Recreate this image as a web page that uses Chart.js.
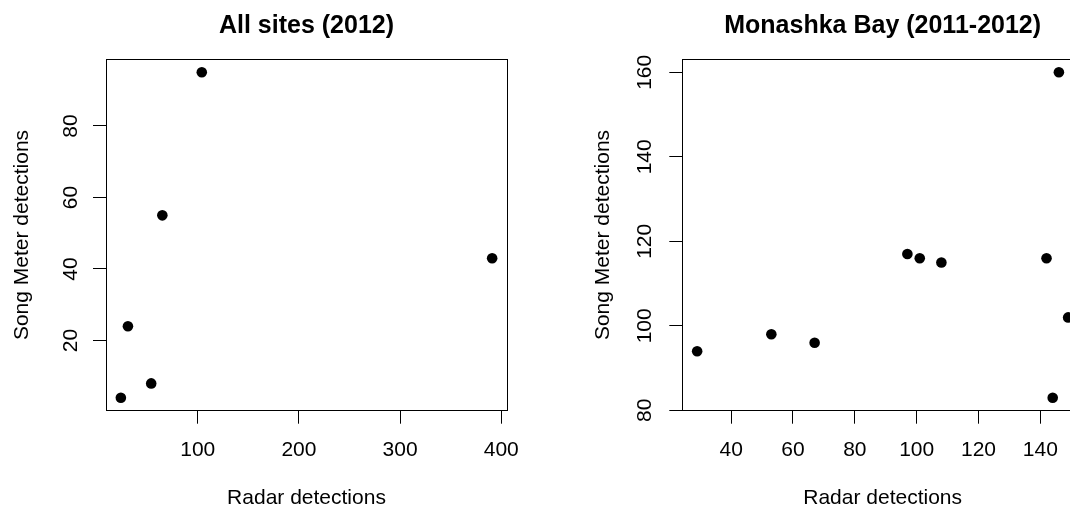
<!DOCTYPE html>
<html>
<head>
<meta charset="utf-8">
<script src="https://cdn.jsdelivr.net/npm/chart.js@4.4.0/dist/chart.umd.min.js"></script>
<style>
  html, body { margin: 0; padding: 0; background: #ffffff; }
  body { width: 1070px; height: 506px; overflow: hidden; position: relative; }
  canvas { position: absolute; top: 0; }
  #allSites { left: 0; }
  #monashka { left: 535px; }
</style>
</head>
<body>
<canvas id="allSites" width="535" height="520"></canvas>
<canvas id="monashka" width="548" height="520"></canvas>
<script>
const black = '#000000';
Chart.defaults.font.family = "'Liberation Sans', Arial, Helvetica, sans-serif";
Chart.defaults.color = black;

// All sites (2012)
const allSitesRadar = [24, 54, 31, 65, 104, 391];
const allSitesSongMeter = [4, 8, 24, 55, 95, 43];
const allSitesXTicks = [100, 200, 300, 400];
const allSitesYTicks = [20, 40, 60, 80];

// Monashka Bay (2011-2012)
const monashkaRadar = [29, 53, 67, 97, 101, 108, 142, 146, 144, 149];
const monashkaSongMeter = [94, 98, 96, 117, 116, 115, 116, 160, 83, 102];
const monashkaXTicks = [40, 60, 80, 100, 120, 140];
const monashkaYTicks = [80, 100, 120, 140, 160];

// base R style range: data extent stretched 4% each side
function rRange(values) {
  const lo = Math.min(...values);
  const hi = Math.max(...values);
  const pad = (hi - lo) * 0.04;
  return { min: lo - pad, max: hi + pad };
}

// closed frame around the plot region
const plotBox = {
  id: 'plotBox',
  afterDraw(chart) {
    const { ctx, chartArea: a } = chart;
    const x0 = Math.floor(a.left) + 0.5, y0 = Math.floor(a.top) + 0.5;
    const x1 = Math.floor(a.right) + 0.5, y1 = Math.floor(a.bottom) + 0.5;
    ctx.save();
    ctx.strokeStyle = black;
    ctx.lineWidth = 1;
    ctx.strokeRect(x0, y0, x1 - x0, y1 - y0);
    ctx.restore();
  }
};

function drawPlot(id, name, xs, ys, xTicks, yTicks, lay) {
  const xr = rRange(xs);
  const yr = rRange(ys);
  return new Chart(document.getElementById(id), {
    type: 'scatter',
    data: {
      datasets: [{
        data: xs.map((x, i) => ({ x: x, y: ys[i] })),
        backgroundColor: black,
        pointRadius: 5.3,
        pointHoverRadius: 5.3,
        borderWidth: 0,
        clip: false
      }]
    },
    options: {
      responsive: false,
      animation: false,
      events: [],
      layout: {
        autoPadding: false,
        padding: { left: 0, right: lay.right, top: 0, bottom: 0 }
      },
      plugins: {
        legend: { display: false },
        tooltip: { enabled: false },
        title: {
          display: true,
          text: name,
          fullSize: false,
          color: black,
          font: { size: 25, weight: 'bold' },
          padding: { top: 11.5, bottom: 17.8 }
        }
      },
      scales: {
        x: {
          type: 'linear',
          position: 'bottom',
          min: xr.min,
          max: xr.max,
          afterBuildTicks: s => { s.ticks = xTicks.map(v => ({ value: v })); },
          afterFit: s => { s.height = 109.3; },
          ticks: { color: black, font: { size: 21 }, padding: 14.2, maxRotation: 0 },
          grid: { drawOnChartArea: false, color: black, tickLength: 13 },
          border: { display: false },
          title: {
            display: true,
            text: 'Radar detections',
            color: black,
            font: { size: 21 },
            padding: { top: 0, bottom: 8.9 }
          }
        },
        y: {
          type: 'linear',
          position: 'left',
          min: yr.min,
          max: yr.max,
          afterBuildTicks: s => { s.ticks = yTicks.map(v => ({ value: v })); },
          afterFit: s => { s.width = lay.yWidth; },
          ticks: {
            color: black,
            font: { size: 21 },
            padding: lay.yTickPad,
            minRotation: 90,
            maxRotation: 90,
            crossAlign: 'center'
          },
          grid: { drawOnChartArea: false, color: black, tickLength: 13 },
          border: { display: false },
          title: {
            display: true,
            text: 'Song Meter detections',
            color: black,
            font: { size: 21 },
            padding: { top: lay.yTitlePad, bottom: 0 }
          }
        }
      }
    },
    plugins: [plotBox]
  });
}

drawPlot('allSites', 'All sites (2012)', allSitesRadar, allSitesSongMeter,
  allSitesXTicks, allSitesYTicks, { right: 28, yWidth: 106, yTickPad: 9.8, yTitlePad: 9.2 });

drawPlot('monashka', 'Monashka Bay (2011-2012)', monashkaRadar, monashkaSongMeter,
  monashkaXTicks, monashkaYTicks, { right: 0, yWidth: 147.3, yTickPad: 6.6, yTitlePad: 55.9 });
</script>
</body>
</html>
